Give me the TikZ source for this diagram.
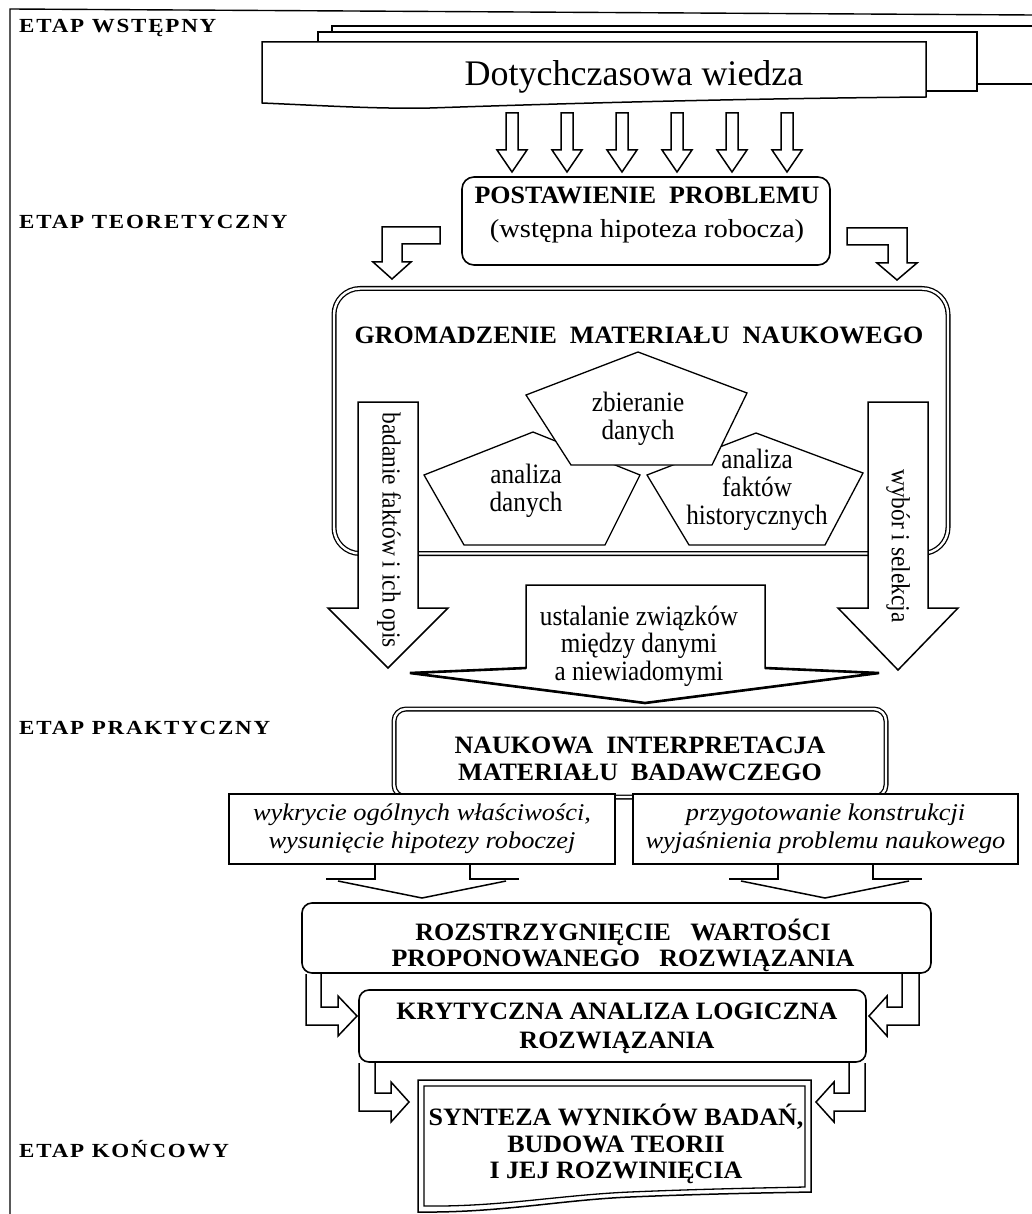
\documentclass[tikz,border=0pt]{standalone}
\usepackage{fontspec}
\setmainfont{Liberation Serif}
\newfontfamily\capfont{Liberation Serif}[FakeStretch=1.04]
\newfontfamily\narrowfont{Liberation Serif}[FakeStretch=0.9]
\newfontfamily\widefont{Liberation Serif}[FakeStretch=1.1]
\newfontfamily\itwide{Liberation Serif}[FakeStretch=1.1]
\newfontfamily\stagefont{Liberation Serif}[FakeStretch=1.15,LetterSpace=9]
\begin{document}
\begin{tikzpicture}[x=1pt,y=-1pt,line join=miter]
\tikzset{
  hollow/.style={draw,line width=1.5pt,fill=white},
  openarrow/.style={draw,line width=1.5pt},
  rbox/.style={draw,line width=1.6pt,fill=white,rounded corners=10pt,inner sep=0pt},
  sqbox/.style={draw,line width=1.5pt,fill=white,inner sep=0pt},
  dblbox/.style={draw,line width=1.3pt,double,double distance=2.4pt,fill=white,inner sep=0pt},
  captext/.style={inner sep=0pt,align=center,font=\capfont\bfseries\fontsize{25}{27}\selectfont},
  rmtext/.style={inner sep=0pt,align=center,font=\narrowfont\fontsize{28}{28}\selectfont},
  ittext/.style={align=center,font=\itwide\itshape\fontsize{24}{28}\selectfont},
  stagelabel/.style={inner sep=0pt,anchor=west,font=\stagefont\bfseries\fontsize{20}{22}\selectfont},
}
\useasboundingbox (0,0) rectangle (1032,1214);
\fill[white] (0,0) rectangle (1032,1214);

% page frame
\draw[line width=1.4pt] (10,1214) -- (10,9) -- (1032,15);

% stacked sheets of prior knowledge
\draw[sqbox] (332,26) rectangle (1045,84);
\draw[sqbox] (318,32) rectangle (977,91);
\draw[line width=1.5pt,fill=white] (262,42) -- (926,42) -- (926,97)
  .. controls (700,99) and (520,105) .. (430,108)
  .. controls (380,109) and (330,106) .. (262,103) -- cycle;
\node[inner sep=0pt,font=\fontsize{36}{40}\selectfont] (know) at (634,77) {Dotychczasowa wiedza};

% six input arrows
\foreach \c in {512,567,622,677,732,787} {
  \draw[hollow] (\c-6,113) -- (\c+6,113) -- (\c+6,150) -- (\c+15,150) -- (\c,172)
    -- (\c-15,150) -- (\c-6,150) -- cycle;
}

% problem statement
\node[rbox,rounded corners=12pt,minimum width=368pt,minimum height=88pt] (prob) at (646,221) {};
\node[inner sep=0pt,align=center,font=\widefont\fontsize{26}{30}\selectfont] (probtext) at (647,215)
  {{\capfont\bfseries\fontsize{25}{30}\selectfont POSTAWIENIE\ \ PROBLEMU}\\[4pt](wstępna hipoteza robocza)};

% bent arrows towards the collecting stage
\draw[hollow] (440,227) -- (382,227) -- (382,262) -- (373,262) -- (392,279) -- (411,262)
  -- (402,262) -- (402,244) -- (440,244) -- cycle;
\draw[hollow] (847,228) -- (907,228) -- (907,263) -- (917,263) -- (897,280) -- (877,263)
  -- (888,263) -- (888,245) -- (847,245) -- cycle;

% collecting scientific material
\node[dblbox,rounded corners=26pt,minimum width=614pt,minimum height=265pt] (gather) at (641,421) {};
\node[captext] (gathertext) at (639,335) {GROMADZENIE\ \ MATERIAŁU\ \ NAUKOWEGO};

% pentagons
\draw[line width=1.3pt,fill=white] (533,432) -- (640,475) -- (605,545) -- (464,545) -- (424,475) -- cycle;
\draw[line width=1.3pt,fill=white] (756,433) -- (863,473) -- (825,545) -- (689,545) -- (647,475) -- cycle;
\draw[line width=1.3pt,fill=white] (638,352) -- (747,393) -- (712,465) -- (571,465) -- (526,395) -- cycle;
\node[rmtext] (collect) at (638,419) {zbieranie\\danych};
\node[rmtext] (anadata) at (526,491) {analiza\\danych};
\node[rmtext] (anahist) at (757,490) {analiza\\faktów\\historycznych};

% side arrows
\draw[hollow] (358,402) -- (418,402) -- (418,608) -- (448,608) -- (388,668) -- (328,608) -- (358,608) -- cycle;
\draw[hollow] (868,402) -- (928,402) -- (928,608) -- (958,608) -- (898,670) -- (838,608) -- (868,608) -- cycle;
\node[inner sep=0pt,rotate=-90,font=\narrowfont\fontsize{26}{28}\selectfont] (study) at (389,530) {badanie faktów i ich opis};
\node[inner sep=0pt,rotate=-90,font=\narrowfont\fontsize{26}{28}\selectfont] (select) at (898,546) {wybór i selekcja};

% central arrow with relations
\draw[hollow] (526,585) -- (765,585) -- (765,668) -- (879,673) -- (645,703) -- (410,673) -- (526,668) -- cycle;
\draw[line width=2.6pt] (526,668) -- (410,673) -- (645,703) -- (879,673) -- (765,668);
\node[rmtext,font=\narrowfont\fontsize{28}{27.5}\selectfont] (relate) at (639,646) {ustalanie związków\\między danymi\\a niewiadomymi};

% scientific interpretation
\node[dblbox,rounded corners=12pt,minimum width=492pt,minimum height=88pt] (interp) at (640,753) {};
\node[captext] (interptext) at (640,759) {NAUKOWA\ \ INTERPRETACJA\\MATERIAŁU\ \ BADAWCZEGO};

\node[sqbox,ittext,minimum width=386pt,minimum height=70pt] (discover) at (422,829)
  {wykrycie ogólnych właściwości,\\wysunięcie hipotezy roboczej};
\node[sqbox,ittext,minimum width=385pt,minimum height=70pt] (prepare) at (825.5,829)
  {przygotowanie konstrukcji\\wyjaśnienia problemu naukowego};

% converging arrows
\draw[openarrow] (375,864) -- (375,879) -- (326,879);
\draw[openarrow] (470,864) -- (470,879) -- (519,879);
\draw[openarrow] (338,881) -- (422,898) -- (506,881);
\draw[openarrow] (778,864) -- (778,879) -- (729,879);
\draw[openarrow] (873,864) -- (873,879) -- (922,879);
\draw[openarrow] (741,881) -- (825,898) -- (909,881);

% evaluation of the proposed solution
\node[rbox,minimum width=629pt,minimum height=70pt] (decide) at (616.5,938) {};
\node[captext,font=\capfont\bfseries\fontsize{25}{26}\selectfont] (decidetext) at (623,945)
  {ROZSTRZYGNIĘCIE\ \ \ WARTOŚCI\\PROPONOWANEGO\ \ \ ROZWIĄZANIA};

\draw[openarrow] (306,974) -- (306,1025) -- (338,1025) -- (338,1036) -- (357,1016) -- (338,996)
  -- (338,1007) -- (321,1007) -- (321,974);
\draw[openarrow] (919,974) -- (919,1025) -- (887,1025) -- (887,1036) -- (869,1016) -- (887,996)
  -- (887,1007) -- (902,1007) -- (902,974);

% critical analysis
\node[rbox,minimum width=507pt,minimum height=72pt] (critic) at (612.5,1026) {};
\node[captext,font=\capfont\bfseries\fontsize{25}{29}\selectfont] (critictext) at (617,1028)
  {KRYTYCZNA ANALIZA LOGICZNA\\ROZWIĄZANIA};

\draw[openarrow] (359,1063) -- (359,1111) -- (391,1111) -- (391,1122) -- (409,1102) -- (391,1082)
  -- (391,1093) -- (375,1093) -- (375,1063);
\draw[openarrow] (865,1063) -- (865,1111) -- (834,1111) -- (834,1122) -- (816,1102) -- (834,1082)
  -- (834,1093) -- (849,1093) -- (849,1063);

% synthesis
\draw[line width=1.5pt,fill=white] (418,1080) -- (811,1080) -- (811,1192)
  .. controls (760,1193) and (700,1194) .. (630,1197)
  .. controls (560,1200) and (500,1213) .. (418,1212) -- cycle;
\draw[line width=1.3pt] (424,1086) -- (805,1086) -- (805,1187)
  .. controls (760,1188) and (700,1189) .. (630,1192)
  .. controls (560,1195) and (500,1207) .. (424,1206) -- cycle;
\node[captext,font=\capfont\bfseries\fontsize{25}{26.5}\selectfont] (synth) at (616,1144)
  {SYNTEZA WYNIKÓW BADAŃ,\\BUDOWA TEORII\\I JEJ ROZWINIĘCIA};

% stage labels
\node[stagelabel] (s1) at (19,28) {ETAP WSTĘPNY};
\node[stagelabel] (s2) at (19,222) {ETAP TEORETYCZNY};
\node[stagelabel] (s3) at (19,728) {ETAP PRAKTYCZNY};
\node[stagelabel] (s4) at (19,1149) {ETAP KOŃCOWY};
\end{tikzpicture}
\end{document}
